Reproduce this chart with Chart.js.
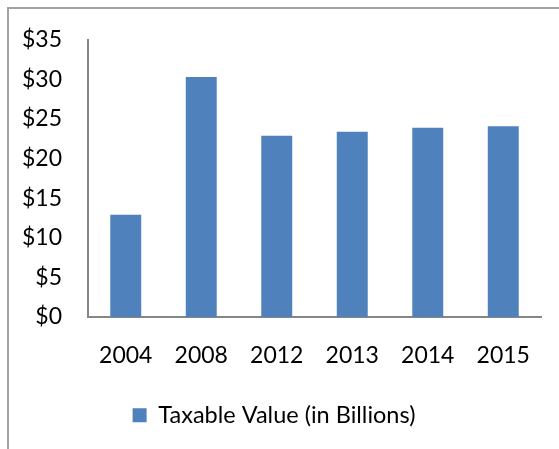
<!DOCTYPE html>
<html>
<head>
<meta charset="utf-8">
<script src="https://cdn.jsdelivr.net/npm/chart.js@4/dist/chart.umd.min.js"></script>
<style>
  html, body { margin: 0; padding: 0; background: #fff; }
  #wrap { position: relative; width: 559px; height: 449px; overflow: hidden; }
  #frame { position: absolute; left: 7px; top: 7px; width: 600px; height: 500px;
           border-left: 2px solid #a3a3a3; border-top: 2px solid #a3a3a3; }
  canvas { position: absolute; left: 0; top: 0; }
</style>
</head>
<body>
<div id="wrap">
  <div id="frame"></div>
  <canvas id="c" width="559" height="449"></canvas>
</div>
<script>
// Taxable value by year, in billions of dollars
const years = ['2004', '2008', '2012', '2013', '2014', '2015'];
const taxableValue = [12.9, 30.3, 22.9, 23.4, 23.9, 24.1];
const seriesLabel = 'Taxable Value (in Billions)';
const yTicks = [0, 5, 10, 15, 20, 25, 30, 35];

const FONT = 'Lato, "Open Sans", sans-serif';
const BLUE = '#4f81bd';
const AXIS = '#868686';

new Chart(document.getElementById('c'), {
  type: 'bar',
  data: {
    labels: years,
    datasets: [{
      label: seriesLabel,
      data: taxableValue,
      backgroundColor: BLUE,
      borderWidth: 0,
      barPercentage: 0.41,
      categoryPercentage: 1.0
    }]
  },
  options: {
    responsive: false,
    animation: false,
    devicePixelRatio: 1,
    layout: { padding: { top: 37, right: 18, bottom: 12, left: 7 } },
    plugins: {
      tooltip: { enabled: false },
      legend: {
        position: 'bottom',
        labels: {
          color: '#000',
          font: { family: FONT, size: 23.5 },
          boxWidth: 14,
          boxHeight: 14,
          padding: 10
        }
      }
    },
    scales: {
      x: {
        grid: { display: false, drawTicks: false },
        border: { display: true, color: AXIS, width: 2 },
        ticks: { color: '#000', font: { family: FONT, size: 23 }, padding: 25, maxRotation: 0 },
        afterFit: (s) => { s.height = 76.5; }
      },
      y: {
        min: 0,
        max: 35,
        grid: { display: false, drawTicks: false },
        border: { display: true, color: AXIS, width: 2 },
        afterBuildTicks: (s) => { s.ticks = yTicks.map(v => ({ value: v })); },
        ticks: {
          color: '#000',
          font: { family: FONT, size: 23 },
          padding: 26,
          callback: (v) => '$' + v
        },
        afterFit: (s) => { s.width = 81; }
      }
    }
  }
});
</script>
</body>
</html>
